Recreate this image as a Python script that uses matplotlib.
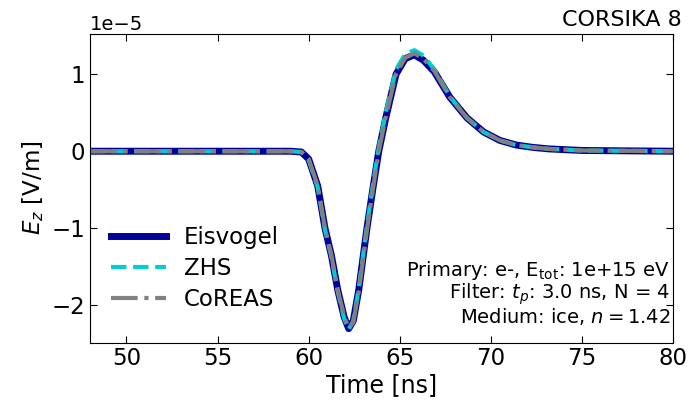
import numpy as np
import matplotlib
matplotlib.use('Agg')
import matplotlib.pyplot as plt

# electric field trace, units of 1e-5 V/m
time_ns = [48.0, 59.0, 59.6, 60.0, 60.5, 60.9, 61.25, 61.6, 61.95, 62.2, 62.45, 62.75,
           63.2, 63.55, 63.85, 64.25, 64.8, 65.3, 65.8, 66.3, 66.9, 67.75, 68.7,
           69.6, 70.5, 71.4, 72.3, 73.2, 75.0, 80.0]
ez_eisvogel = [0.0, 0.0, -0.01, -0.10, -0.45, -1.00, -1.35, -1.80, -2.15, -2.30, -2.20, -1.80,
               -1.00, -0.45, 0.00, 0.45, 1.00, 1.20, 1.25, 1.18, 1.03, 0.70, 0.43,
               0.25, 0.14, 0.08, 0.05, 0.03, 0.01, 0.0]
ez_zhs = [0.0, 0.0, -0.01, -0.11, -0.47, -1.02, -1.37, -1.82, -2.17, -2.31, -2.20, -1.78,
          -0.97, -0.40, 0.05, 0.52, 1.06, 1.26, 1.31, 1.24, 1.06, 0.71, 0.43,
          0.25, 0.14, 0.08, 0.05, 0.03, 0.01, 0.0]
ez_coreas = [0.0, 0.0, -0.01, -0.10, -0.45, -1.00, -1.35, -1.80, -2.14, -2.29, -2.22, -1.82,
             -1.02, -0.46, 0.00, 0.46, 1.01, 1.21, 1.27, 1.20, 1.04, 0.70, 0.43,
             0.25, 0.14, 0.08, 0.05, 0.03, 0.01, 0.0]

t = np.array(time_ns)
scale = 1e-5

fig = plt.figure(figsize=(6.89, 4.08), dpi=100)
ax = fig.add_axes([0.1306, 0.1605, 0.8462, 0.7562])

ax.plot(t, np.array(ez_eisvogel) * scale, color='#00009b', lw=5, label='Eisvogel')
ax.plot(t, np.array(ez_zhs) * scale, color='#00ced1', lw=3, ls='--', label='ZHS')
ax.plot(t, np.array(ez_coreas) * scale, color='grey', lw=3, ls='-.', label='CoREAS')

ax.set_xlim(48, 80)
ax.set_ylim(-2.48e-5, 1.52e-5)
ax.set_xlabel('Time [ns]', fontsize=17, labelpad=2)
ax.set_ylabel(r'$E_z$ [V/m]', fontsize=16.5)
ax.set_title('CORSIKA 8', loc='right', fontsize=16, x=1.015)
ax.tick_params(direction='in', top=True, right=True, labelsize=16.5, length=5)
ax.yaxis.get_offset_text().set_fontsize(14)

ax.legend(loc='lower left', frameon=False, fontsize=16.5, handlelength=2.4,
          labelspacing=0.35, bbox_to_anchor=(0.0, 0.035))

info = ('Primary: e-, E$_{\\rm tot}$: 1e+15 eV\n'
        'Filter: $t_p$: 3.0 ns, N = 4\n'
        'Medium: ice, $n = 1.42$')
ax.text(0.995, 0.05, info, transform=ax.transAxes, ha='right', va='bottom',
        fontsize=14, multialignment='right', linespacing=0.95)

fig.savefig('out.png', dpi=100)
